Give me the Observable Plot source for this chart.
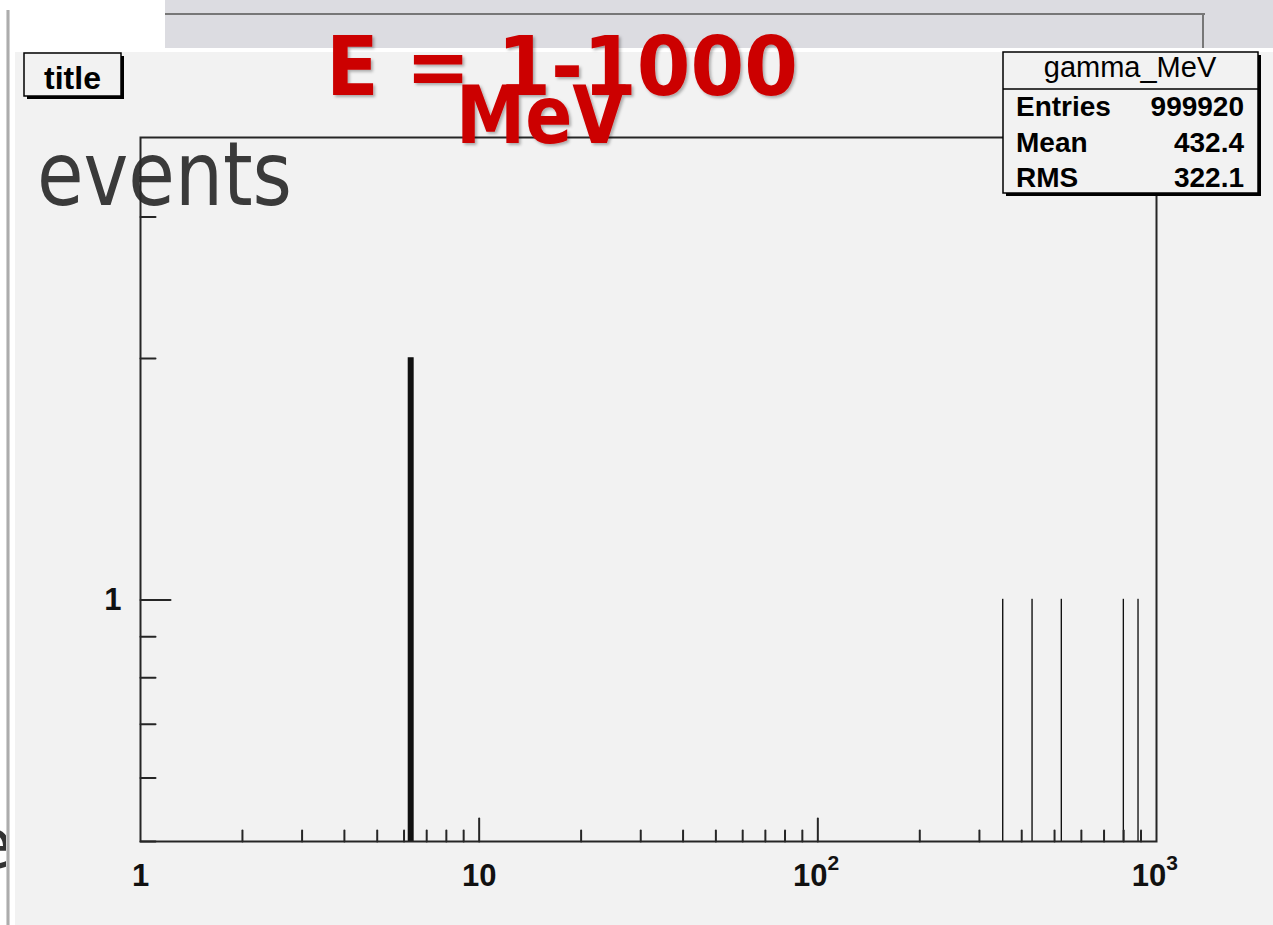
<!DOCTYPE html>
<html>
<head>
<meta charset="utf-8">
<script src="https://cdn.jsdelivr.net/npm/d3@7"></script>
<script src="https://cdn.jsdelivr.net/npm/@observablehq/plot@0.6"></script>
<style>
  html, body { margin: 0; padding: 0; background: #fff; }
  #page { position: relative; width: 1273px; height: 925px; overflow: hidden; background: #fff; }
  .abs { position: absolute; }
  #strip { left: 165px; top: 0; width: 1108px; height: 48px; background: #dcdce1; }
  #stripLineH { left: 165px; top: 13px; width: 1040px; height: 2px; background: #777; }
  #stripLineV { left: 1202px; top: 13px; width: 2px; height: 35px; background: #777; }
  #panel { left: 15px; top: 52px; width: 1258px; height: 873px; background: #f2f2f2; }
  #edge { left: 6px; top: 10px; width: 4px; height: 915px; background: linear-gradient(to right, #e4e4e4, #9a9a9a, #e4e4e4); }
  svg.layer { position: absolute; left: 0; top: 0; }
</style>
</head>
<body>
<div id="page">
  <div class="abs" id="strip"></div>
  <div class="abs" id="stripLineH"></div>
  <div class="abs" id="stripLineV"></div>
  <div class="abs" id="panel"></div>
  <svg class="layer" width="1273" height="925">
    <text x="-30" y="868" font-family="DejaVu Sans" font-size="70" fill="#333">e</text>
  </svg>
  <div class="abs" id="edge"></div>
  <svg class="layer" width="1273" height="925">
    <text transform="translate(37,205) scale(1,1.18)" font-family="DejaVu Sans" font-size="76" fill="#3a3a3a" textLength="255" lengthAdjust="spacingAndGlyphs">events</text>
  </svg>
  <div id="chart" class="abs" style="left:0;top:0"></div>
  <svg class="layer" width="1273" height="925">
    <defs>
      <filter id="soft" x="-10%" y="-10%" width="130%" height="140%">
        <feDropShadow dx="2" dy="2" stdDeviation="1.5" flood-color="#000" flood-opacity="0.3"/>
      </filter>
    </defs>
    <!-- title box -->
    <rect x="27" y="56" width="97" height="43" fill="#000"/>
    <rect x="24" y="53" width="97" height="43" fill="#f2f2f2" stroke="#000" stroke-width="1.5"/>
    <text x="72.5" y="89" text-anchor="middle" font-family="Liberation Sans" font-weight="bold" font-size="32" fill="#000">title</text>
    <!-- statistics box -->
    <rect x="1006" y="55" width="255" height="141" fill="#000"/>
    <rect x="1003" y="52" width="255" height="141" fill="#f2f2f2" stroke="#000" stroke-width="1.5"/>
    <line x1="1003" x2="1258" y1="89" y2="89" stroke="#000" stroke-width="1.5"/>
    <text x="1130" y="77" text-anchor="middle" font-family="Liberation Sans" font-size="29" fill="#000">gamma_MeV</text>
    <g font-family="Liberation Sans" font-weight="bold" font-size="28" fill="#000">
      <text x="1016" y="116">Entries</text>
      <text x="1016" y="152">Mean</text>
      <text x="1016" y="187">RMS</text>
      <text x="1244" y="116" text-anchor="end">999920</text>
      <text x="1244" y="152" text-anchor="end">432.4</text>
      <text x="1244" y="187" text-anchor="end">322.1</text>
    </g>
    <!-- energy range label -->
    <g font-family="DejaVu Sans" font-weight="bold" fill="#cc0000" filter="url(#soft)">
      <text x="326" y="95" font-size="82" textLength="472" lengthAdjust="spacingAndGlyphs">E = 1-1000</text>
      <text x="456" y="143" font-size="80" textLength="170" lengthAdjust="spacingAndGlyphs">MeV</text>
    </g>
  </svg>
</div>
<script>
// gamma_MeV histogram: filled bins (lower edge in MeV) and their counts
const binLowEdges = [6.2, 352.6, 430.4, 525.2, 800.8, 884.8];
const binCounts = [2, 1, 1, 1, 1, 1];
const binWidth = 0.2;

// axes (both logarithmic)
const xDomain = [1, 1000];
const yDomain = [0.5, 3.77];
const xMajorTicks = [1, 10, 100, 1000];
const xLabelBase = ["1", "10", "10", "10"];
const xLabelExp = ["", "", "2", "3"];
const xMidTicks = [10, 100];
const xMinorTicks = [2, 3, 4, 5, 6, 7, 8, 9, 20, 30, 40, 50, 60, 70, 80, 90, 200, 300, 400, 500, 600, 700, 800, 900];
const yLabelTicks = [1];
const yTickLabels = ["1"];
const yMinorTicks = [0.5, 0.6, 0.7, 0.8, 0.9, 2, 3];

const bins = binLowEdges.map((lo, i) => ({lo, hi: lo + binWidth, count: binCounts[i]}));

// straight tick segment drawn from the anchor point along the vector direction
const tickShape = {draw(context, l) { context.moveTo(0, 0); context.lineTo(0, -l); }};
const axisInk = "#262626";
const labelFont = {fontFamily: "Liberation Sans", fontWeight: "bold", fill: "#111"};

const withExp = xMajorTicks.filter((d, i) => xLabelExp[i] !== "");
const noExp = xMajorTicks.filter((d, i) => xLabelExp[i] === "");
const labelOf = d => xLabelBase[xMajorTicks.indexOf(d)];
const expOf = d => xLabelExp[xMajorTicks.indexOf(d)];

const chart = Plot.plot({
  width: 1273,
  height: 925,
  marginLeft: 140,
  marginRight: 117,
  marginTop: 137,
  marginBottom: 84,
  style: {background: "transparent", overflow: "visible"},
  x: {type: "log", domain: xDomain, axis: null},
  y: {type: "log", domain: yDomain, axis: null},
  marks: [
    Plot.rect(bins, {x1: "lo", x2: "hi", y1: yDomain[0], y2: "count", fill: "#111", stroke: "#111", strokeWidth: 1.3}),
    Plot.frame({stroke: axisInk, strokeWidth: 2}),
    Plot.vector(xMinorTicks, {x: d => d, frameAnchor: "bottom", anchor: "start", rotate: 0, length: 11, shape: tickShape, stroke: axisInk, strokeWidth: 2}),
    Plot.vector(xMidTicks, {x: d => d, frameAnchor: "bottom", anchor: "start", rotate: 0, length: 23, shape: tickShape, stroke: axisInk, strokeWidth: 2}),
    Plot.vector(yMinorTicks, {y: d => d, frameAnchor: "left", anchor: "start", rotate: 90, length: 15, shape: tickShape, stroke: axisInk, strokeWidth: 2}),
    Plot.vector(yLabelTicks, {y: d => d, frameAnchor: "left", anchor: "start", rotate: 90, length: 30, shape: tickShape, stroke: axisInk, strokeWidth: 2}),
    Plot.text(noExp, {x: d => d, text: labelOf, frameAnchor: "bottom", lineAnchor: "top", dy: 22, fontSize: 31, ...labelFont}),
    Plot.text(withExp, {x: d => d, text: labelOf, frameAnchor: "bottom", lineAnchor: "top", dy: 22, dx: -7.5, fontSize: 31, ...labelFont}),
    Plot.text(withExp, {x: d => d, text: expOf, frameAnchor: "bottom", lineAnchor: "top", dy: 14, dx: 15.5, fontSize: 21, ...labelFont}),
    Plot.text(yLabelTicks, {y: d => d, text: d => yTickLabels[yLabelTicks.indexOf(d)], frameAnchor: "left", textAnchor: "end", dx: -19, fontSize: 31, ...labelFont})
  ]
});
document.getElementById("chart").appendChild(chart);
</script>
</body>
</html>
